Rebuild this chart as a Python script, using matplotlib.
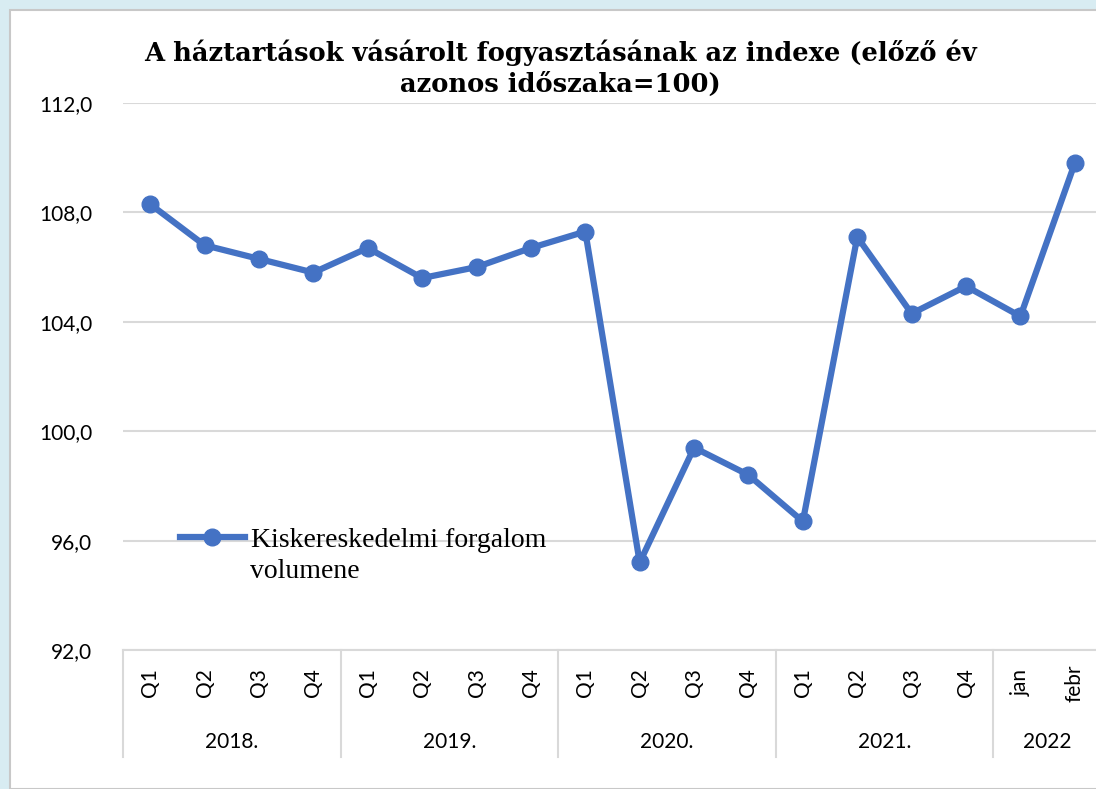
import numpy as np
import matplotlib.pyplot as plt
from matplotlib.patches import Rectangle

quarters = ["Q1", "Q2", "Q3", "Q4"] * 4 + ["jan", "febr"]
years = ["2018.", "2019.", "2020.", "2021.", "2022"]
year_sizes = [4, 4, 4, 4, 2]
values = [108.3, 106.8, 106.3, 105.8,
          106.7, 105.6, 106.0, 106.7,
          107.3, 95.2, 99.4, 98.4,
          96.7, 107.1, 104.3, 105.3,
          104.2, 109.8]

W, H = 1096, 789
fig = plt.figure(figsize=(W / 100, H / 100), dpi=100)
fig.patch.set_facecolor("#d8ecf2")
fig.patches.append(Rectangle((10 / W, 0), 1, 1 - 10 / H, transform=fig.transFigure,
                             facecolor="white", edgecolor="#c8c8c8", linewidth=1.5, zorder=-5))

ax = fig.add_axes([123 / W, 139 / H, 979 / W, 547 / H])
ax.set_zorder(2)
ax.set_facecolor("none")
x = np.arange(len(values))
ax.plot(x, values, '-o', color="#4472C4", linewidth=4.5, markersize=12,
        label="Kiskereskedelmi forgalom", zorder=3)

ax.set_xlim(-0.5, len(values) - 0.5)
ax.set_ylim(92, 112)
ax.set_yticks(np.arange(92, 113, 4))
ax.set_yticklabels([f"{v:.1f}".replace(".", ",") for v in np.arange(92, 113, 4)],
                   fontsize=15, fontfamily="Lato")
ax.tick_params(axis="y", length=0, pad=22)
ax.grid(axis="y", color="#d9d9d9", linewidth=1.5)
ax.set_axisbelow(True)
for s in ["top", "right", "left"]:
    ax.spines[s].set_visible(False)
ax.spines["bottom"].set_color("#d9d9d9")
ax.spines["bottom"].set_linewidth(1.5)
ax.set_xticks([])

# multi-level category axis
tr = ax.get_xaxis_transform()
for i, q in enumerate(quarters):
    ax.text(i, -0.06, q, rotation=90, ha="center", va="center", fontsize=15,
            fontfamily="Lato", transform=tr)
edges = np.concatenate([[0], np.cumsum(year_sizes)]) - 0.5
for e in edges:
    ax.plot([e, e], [0, -0.196], color="#d9d9d9", linewidth=1.5, transform=tr, clip_on=False)
for k, yr in enumerate(years):
    mid = (edges[k] + edges[k + 1]) / 2
    ax.text(mid, -0.168, yr, ha="center", va="center", fontsize=15,
            fontfamily="Lato", transform=tr)

# legend: handle next to first line, second line of label below
ax.legend(loc="center left", bbox_to_anchor=(0.058, 0.201), frameon=False, borderpad=0,
          borderaxespad=0, prop={"family": "Liberation Serif", "size": 20},
          handlelength=2.35, handletextpad=0.2)
ax.text(0.1297, 0.1426, "volumene", transform=ax.transAxes, ha="left", va="center",
        fontsize=20, fontfamily="Liberation Serif")

fig.text(560 / W, 1 - 68 / H, "A háztartások vásárolt fogyasztásának az indexe (előző év\nazonos időszaka=100)",
         ha="center", va="center", fontsize=18.5, fontweight="bold", fontfamily="DejaVu Serif",
         linespacing=1.3)

fig.savefig("out.png", dpi=100)
